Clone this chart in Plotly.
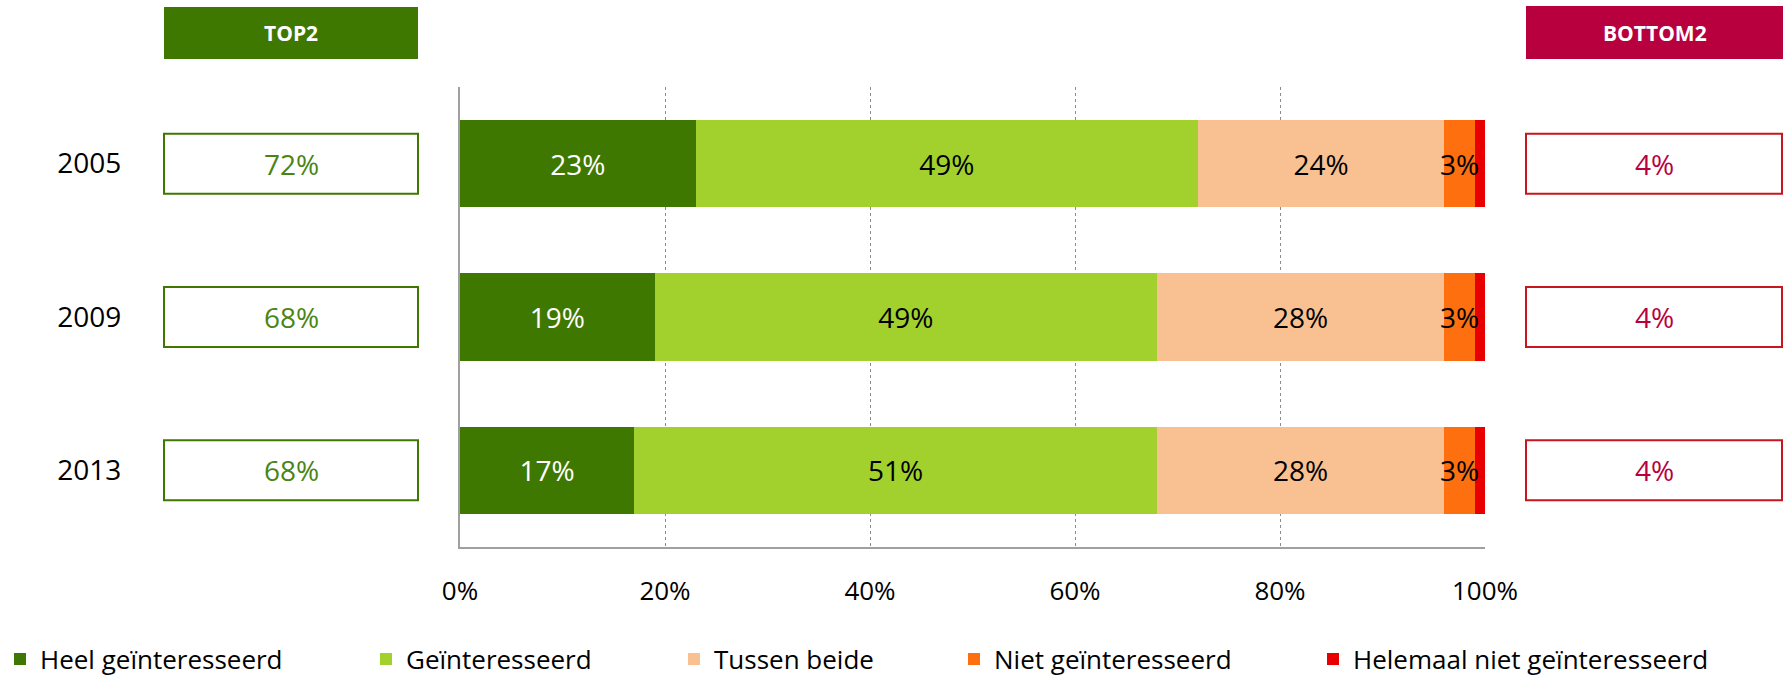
import plotly.graph_objects as go

# ---- data ----
years = ["2005", "2009", "2013"]
series_names = ["Heel geïnteresseerd", "Geïnteresseerd", "Tussen beide",
                "Niet geïnteresseerd", "Helemaal niet geïnteresseerd"]
heel = [23, 19, 17]
geint = [49, 49, 51]
tussen = [24, 28, 28]
niet = [3, 3, 3]
helemaal = [1, 1, 1]
x_ticks = [0, 20, 40, 60, 80, 100]
x_tick_labels = ["0%", "20%", "40%", "60%", "80%", "100%"]

top2 = [a + b for a, b in zip(heel, geint)]
bottom2 = [a + b for a, b in zip(niet, helemaal)]

# ---- style ----
W, H = 1787, 684
FONT = "Open Sans"
colors = ["#3F7800", "#A2D12E", "#F9C192", "#FE6F0F", "#E80000"]
text_colors = ["white", "black", "black", "black", "black"]
GREEN = "#3F7800"
MAGENTA = "#B8003F"
BOX_RED = "#C8161E"

plot_left, plot_right, plot_top, plot_bottom = 460, 1485, 87, 547
slot = (plot_bottom - plot_top) / 3
box_half = 30


def px(x):
    return x / W


def py(y):
    return 1 - y / H


fig = go.Figure()
all_series = [heel, geint, tussen, niet, helemaal]
legend_lefts = [0, 366, 674, 954, 1313]
for i, (name, vals) in enumerate(zip(series_names, all_series)):
    show_text = i < 3
    fig.add_trace(go.Bar(
        y=years, x=vals, orientation="h", name=name,
        marker=dict(color=colors[i], line=dict(width=0)),
        text=[f"{v}%" for v in vals] if show_text else None,
        textposition="inside" if show_text else "none",
        insidetextanchor="middle",
        textfont=dict(family=FONT, size=28, color=text_colors[i]),
        legend="legend" if i == 0 else f"legend{i+1}",
        hovertemplate="%{y}: %{x}%<extra>" + name + "</extra>",
    ))

annotations = []
shapes = []

# labels on the narrow orange segments
for k, yr in enumerate(years):
    start = heel[k] + geint[k] + tussen[k]
    annotations.append(dict(
        x=start + niet[k] / 2, y=k, xref="x", yref="y",
        text=f"{niet[k]}%", showarrow=False,
        font=dict(family=FONT, size=28, color="black"),
        xanchor="center", yanchor="middle"))

# header boxes
for (x0, x1, y0, y1, col, label) in [
    (164, 418, 7, 59, GREEN, "TOP2"),
    (1526, 1783, 6, 59, MAGENTA, "BOTTOM2"),
]:
    shapes.append(dict(type="rect", xref="paper", yref="paper",
                       x0=px(x0), x1=px(x1), y0=py(y1), y1=py(y0),
                       fillcolor=col, line=dict(width=0), layer="above"))
    annotations.append(dict(x=px((x0 + x1) / 2), y=py((y0 + y1) / 2),
                            xref="paper", yref="paper", text=f"<b>{label}</b>",
                            showarrow=False, xanchor="center", yanchor="middle",
                            font=dict(family=FONT, size=21, color="white")))

# TOP2 / BOTTOM2 value boxes
for k, yr in enumerate(years):
    cy = plot_top + (k + 0.5) * slot
    for (x0, x1, col, tcol, val) in [
        (164, 418, GREEN, "#4A8514", top2[k]),
        (1526, 1782, BOX_RED, MAGENTA, bottom2[k]),
    ]:
        shapes.append(dict(type="rect", xref="paper", yref="paper",
                           x0=px(x0), x1=px(x1),
                           y0=py(cy + box_half), y1=py(cy - box_half),
                           fillcolor="white", line=dict(color=col, width=2)))
        annotations.append(dict(x=px((x0 + x1) / 2), y=k, xref="paper", yref="y",
                                text=f"{val}%", showarrow=False,
                                xanchor="center", yanchor="middle",
                                font=dict(family=FONT, size=28, color=tcol)))

layout_legends = {}
for i, left in enumerate(legend_lefts):
    key = "legend" if i == 0 else f"legend{i+1}"
    layout_legends[key] = dict(
        x=px(left), y=py(659), xref="paper", yref="paper",
        xanchor="left", yanchor="middle", orientation="h",
        font=dict(family=FONT, size=26, color="black"),
        bgcolor="rgba(0,0,0,0)", borderwidth=0,
        itemclick=False, itemdoubleclick=False,
    )

fig.update_layout(
    template="none",
    width=W, height=H,
    margin=dict(l=0, r=0, t=0, b=0),
    paper_bgcolor="white", plot_bgcolor="white",
    barmode="stack", bargap=0.43,
    showlegend=True,
    font=dict(family=FONT, size=26, color="black"),
    xaxis=dict(domain=[px(plot_left), px(plot_right)], range=[0, 100],
               tickvals=x_ticks, ticktext=x_tick_labels, ticks="",
               showgrid=True, gridcolor="#8C8C8C", griddash="dot", gridwidth=1,
               zeroline=False, showline=True, linecolor="#A0A0A0", linewidth=2,
               tickfont=dict(family=FONT, size=26, color="black"),
               ticklabelstandoff=20, automargin=False, fixedrange=True),
    yaxis=dict(domain=[py(plot_bottom), py(plot_top)], type="category",
               categoryorder="array", categoryarray=years,
               range=[2.5, -0.5], autorange=False,
               ticks="", showgrid=False, zeroline=False,
               showline=True, linecolor="#A0A0A0", linewidth=2,
               tickfont=dict(family=FONT, size=28, color="black"),
               ticklabelstandoff=331, automargin=False, fixedrange=True),
    shapes=shapes,
    annotations=annotations,
    **layout_legends,
)

fig.write_html(
    "out.html",
    config={"displayModeBar": False},
    post_script="document.body.style.margin='0px';document.body.style.overflow='hidden';",
)
